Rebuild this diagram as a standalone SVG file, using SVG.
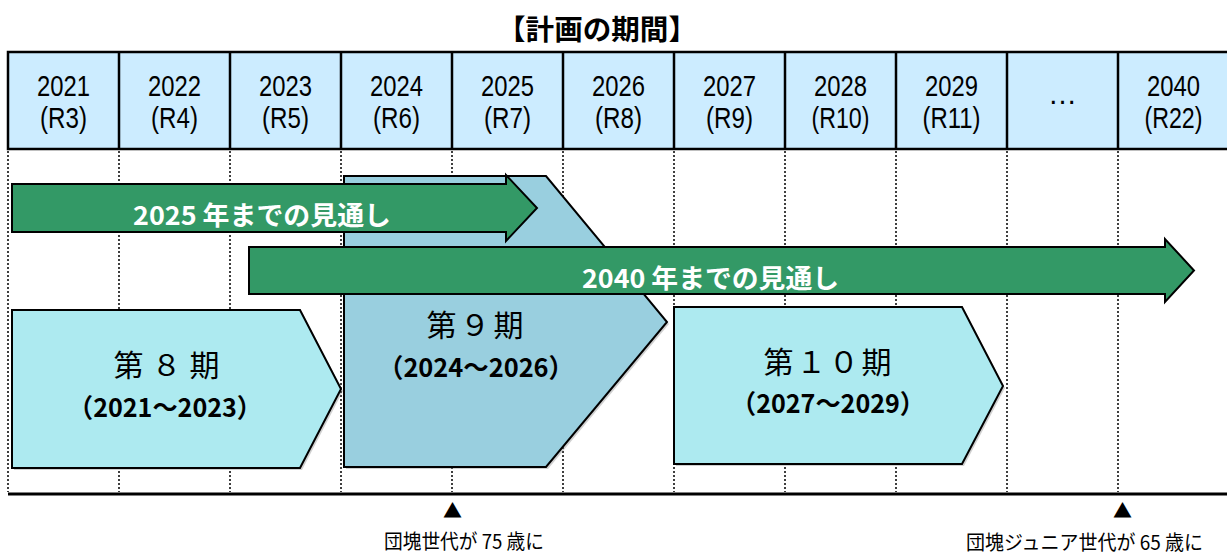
<svg xmlns="http://www.w3.org/2000/svg" width="1227" height="554" viewBox="0 0 1227 554">
<style>
.hd{fill:#CCECFF;stroke:#000;stroke-width:2.5}
.vl{stroke:#000;stroke-width:2.5}
.dot{stroke:#000;stroke-width:1.5;stroke-dasharray:2 2}
.t{font-family:"Noto Sans CJK JP","Liberation Sans",sans-serif;fill:#000}
.yr{font-family:"Liberation Sans",sans-serif;font-size:29px;text-anchor:middle}
.p1{font-size:30px;text-anchor:middle}
.p2{font-size:26px;font-weight:bold;text-anchor:middle}
.ar{fill:#339966;stroke:#000;stroke-width:2}
.at{font-size:26px;font-weight:bold;fill:#fff}
.pa{fill:#ADEAF0;stroke:#000;stroke-width:2}
.pb{fill:#99CFDF;stroke:#000;stroke-width:2}
.sh{fill:#777;opacity:0.35}
.bl{font-size:20px}
</style>
<text class="t" x="597" y="40" font-size="28" font-weight="bold" text-anchor="middle" textLength="200" lengthAdjust="spacingAndGlyphs">【計画の期間】</text>
<g id="grid">
<rect class="hd" x="8" y="52" width="1225" height="97"/>
<g>
<line class="vl" x1="119" y1="52" x2="119" y2="149"/>
<line class="vl" x1="230" y1="52" x2="230" y2="149"/>
<line class="vl" x1="341" y1="52" x2="341" y2="149"/>
<line class="vl" x1="452" y1="52" x2="452" y2="149"/>
<line class="vl" x1="563" y1="52" x2="563" y2="149"/>
<line class="vl" x1="674" y1="52" x2="674" y2="149"/>
<line class="vl" x1="785" y1="52" x2="785" y2="149"/>
<line class="vl" x1="896" y1="52" x2="896" y2="149"/>
<line class="vl" x1="1007" y1="52" x2="1007" y2="149"/>
<line class="vl" x1="1118" y1="52" x2="1118" y2="149"/>
</g>
<g>
<line class="dot" x1="8" y1="151" x2="8" y2="492"/>
<line class="dot" x1="119" y1="151" x2="119" y2="492"/>
<line class="dot" x1="230" y1="151" x2="230" y2="492"/>
<line class="dot" x1="341" y1="151" x2="341" y2="492"/>
<line class="dot" x1="452" y1="151" x2="452" y2="492"/>
<line class="dot" x1="563" y1="151" x2="563" y2="492"/>
<line class="dot" x1="674" y1="151" x2="674" y2="492"/>
<line class="dot" x1="785" y1="151" x2="785" y2="492"/>
<line class="dot" x1="896" y1="151" x2="896" y2="492"/>
<line class="dot" x1="1007" y1="151" x2="1007" y2="492"/>
<line class="dot" x1="1118" y1="151" x2="1118" y2="492"/>
</g>
<line x1="8" y1="494" x2="1227" y2="494" stroke="#000" stroke-width="3"/>
</g>
<g id="years">
<text class="t yr" x="63.5" y="96" textLength="53" lengthAdjust="spacingAndGlyphs">2021</text>
<text class="t yr" x="63.5" y="128" textLength="47" lengthAdjust="spacingAndGlyphs">(R3)</text>
<text class="t yr" x="174.5" y="96" textLength="53" lengthAdjust="spacingAndGlyphs">2022</text>
<text class="t yr" x="174.5" y="128" textLength="47" lengthAdjust="spacingAndGlyphs">(R4)</text>
<text class="t yr" x="285.5" y="96" textLength="53" lengthAdjust="spacingAndGlyphs">2023</text>
<text class="t yr" x="285.5" y="128" textLength="47" lengthAdjust="spacingAndGlyphs">(R5)</text>
<text class="t yr" x="396.5" y="96" textLength="53" lengthAdjust="spacingAndGlyphs">2024</text>
<text class="t yr" x="396.5" y="128" textLength="47" lengthAdjust="spacingAndGlyphs">(R6)</text>
<text class="t yr" x="507.5" y="96" textLength="53" lengthAdjust="spacingAndGlyphs">2025</text>
<text class="t yr" x="507.5" y="128" textLength="47" lengthAdjust="spacingAndGlyphs">(R7)</text>
<text class="t yr" x="618.5" y="96" textLength="53" lengthAdjust="spacingAndGlyphs">2026</text>
<text class="t yr" x="618.5" y="128" textLength="47" lengthAdjust="spacingAndGlyphs">(R8)</text>
<text class="t yr" x="729.5" y="96" textLength="53" lengthAdjust="spacingAndGlyphs">2027</text>
<text class="t yr" x="729.5" y="128" textLength="47" lengthAdjust="spacingAndGlyphs">(R9)</text>
<text class="t yr" x="840.5" y="96" textLength="53" lengthAdjust="spacingAndGlyphs">2028</text>
<text class="t yr" x="840.5" y="128" textLength="58" lengthAdjust="spacingAndGlyphs">(R10)</text>
<text class="t yr" x="951.5" y="96" textLength="53" lengthAdjust="spacingAndGlyphs">2029</text>
<text class="t yr" x="951.5" y="128" textLength="58" lengthAdjust="spacingAndGlyphs">(R11)</text>
<text class="t yr" x="1062.5" y="104">…</text>
<text class="t yr" x="1173.5" y="96" textLength="53" lengthAdjust="spacingAndGlyphs">2040</text>
<text class="t yr" x="1173.5" y="128" textLength="58" lengthAdjust="spacingAndGlyphs">(R22)</text>
</g>
<g id="period8">
<polygon class="sh" points="14,312 302,312 343,391 302,470 14,470"/>
<polygon class="pa" points="12,310 300,310 341,389 300,468 12,468"/>
<text class="t p1" x="166.5" y="376" textLength="106" lengthAdjust="spacing">第８期</text>
<text class="t p2" x="165" y="417" textLength="194" lengthAdjust="spacingAndGlyphs">（2021～2023）</text>
</g>
<g id="period9">
<polygon class="sh" points="346,178 548,178 669,324 548,469 346,469"/>
<polygon class="pb" points="344,176 546,176 667,322 546,467 344,467"/>
<text class="t p1" x="475" y="336" textLength="97" lengthAdjust="spacing">第９期</text>
<text class="t p2" x="476" y="377" textLength="196" lengthAdjust="spacingAndGlyphs">（2024～2026）</text>
</g>
<g id="period10">
<polygon class="sh" points="676,309 964,309 1005,388 964,466 676,466"/>
<polygon class="pa" points="674,307 962,307 1003,386 962,464 674,464"/>
<text class="t p1" x="827.5" y="373" textLength="128" lengthAdjust="spacing">第１０期</text>
<text class="t p2" x="828" y="413" textLength="194" lengthAdjust="spacingAndGlyphs">（2027～2029）</text>
</g>
<g id="arrow2025">
<polygon class="ar" points="12,184 506,184 506,175 537,208 506,241 506,232 12,232"/>
<text class="t at" x="133" y="225" textLength="258" lengthAdjust="spacingAndGlyphs">2025 年までの見通し</text>
</g>
<g id="arrow2040">
<polygon class="ar" points="249,247 1165,247 1165,239 1194,270.5 1165,302 1165,294 249,294"/>
<text class="t at" x="582" y="288" textLength="257" lengthAdjust="spacingAndGlyphs">2040 年までの見通し</text>
</g>
<g id="note75">
<text class="t" x="452.5" y="518" font-size="19" text-anchor="middle">▲</text>
<text class="t bl" x="384" y="549" textLength="160" lengthAdjust="spacingAndGlyphs">団塊世代が 75 歳に</text>
</g>
<g id="note65">
<text class="t" x="1122.5" y="518" font-size="19" text-anchor="middle">▲</text>
<text class="t bl" x="966" y="550" textLength="237" lengthAdjust="spacingAndGlyphs">団塊ジュニア世代が 65 歳に</text>
</g>
</svg>
